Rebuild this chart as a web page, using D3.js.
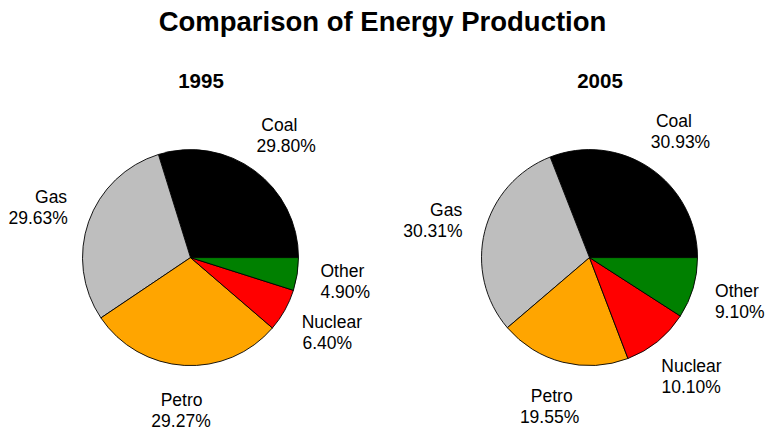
<!DOCTYPE html>
<html>
<head>
<meta charset="utf-8">
<script src="https://cdn.jsdelivr.net/npm/d3@7"></script>
<style>
  html, body { margin: 0; padding: 0; background: #ffffff; }
  svg { display: block; }
  text { font-family: "Liberation Sans", Arial, sans-serif; fill: #000; }
</style>
</head>
<body>
<svg id="chart" width="766" height="434"></svg>
<script>
// ---- data ----
const categories = ["Coal", "Gas", "Petro", "Nuclear", "Other"];
const years = ["1995", "2005"];
const values1995 = [29.80, 29.63, 29.27, 6.40, 4.90];
const values2005 = [30.93, 30.31, 19.55, 10.10, 9.10];
const sliceColors = ["#000000", "#BEBEBE", "#FFA500", "#FF0000", "#008000"];
const title = "Comparison of Energy Production";

// ---- layout ----
const W = 766, H = 434;
const radius = 108;
const centerY = 257.6;
const svg = d3.select("#chart");

const xPos = d3.scaleBand().domain(years).range([-9, 789]);
const color = d3.scaleOrdinal().domain(categories).range(sliceColors);

svg.append("text")
  .attr("x", 382.5).attr("y", 31)
  .attr("text-anchor", "middle")
  .attr("font-size", "27.5px").attr("font-weight", "bold")
  .text(title);

const pie = d3.pie()
  .sort(null)
  .value(d => d.value)
  .startAngle(Math.PI / 2)
  .endAngle(Math.PI / 2 - 2 * Math.PI);

const arc = d3.arc().innerRadius(0).outerRadius(radius);

const series = [values1995, values2005];

years.forEach((yr, i) => {
  const cx = xPos(yr) + xPos.bandwidth() / 2;
  const g = svg.append("g").attr("transform", `translate(${cx},${centerY})`);
  const data = categories.map((c, j) => ({ cat: c, value: series[i][j] }));
  const arcs = pie(data);

  g.selectAll("path.slice")
    .data(arcs)
    .enter().append("path")
    .attr("class", "slice")
    .attr("d", arc)
    .attr("fill", d => color(d.data.cat))
    .attr("stroke", "#000")
    .attr("stroke-width", 0.9);

  // subtitle
  svg.append("text")
    .attr("x", cx + 10.5).attr("y", 88.3)
    .attr("text-anchor", "middle")
    .attr("font-size", "20.5px").attr("font-weight", "bold")
    .text(yr);

  // labels
  const lr = radius * 1.22;
  const lineH = 21;
  arcs.forEach(a => {
    const m = (a.startAngle + a.endAngle) / 2;
    const cosT = Math.sin(m), sinT = Math.cos(m);
    const px = lr * cosT, py = -lr * sinT;
    const hj = (1 - cosT) / 2;
    const top = py - 2 * lineH * (1 + sinT) / 2;
    const lines = [a.data.cat, a.data.value.toFixed(2) + "%"];
    lines.forEach((t, k) => {
      const el = g.append("text")
        .attr("font-size", "17.5px")
        .attr("y", top + lineH * k + 17)
        .text(t);
      const w = el.node().getComputedTextLength();
      el.attr("x", px - hj * w);
    });
  });
});
</script>
</body>
</html>
